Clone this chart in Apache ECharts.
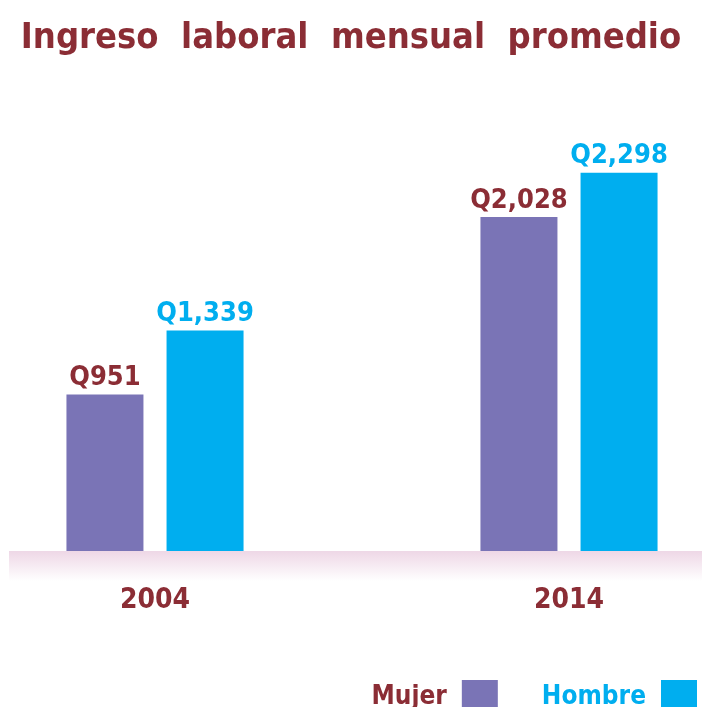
<!DOCTYPE html>
<html>
<head>
<meta charset="utf-8">
<script src="https://cdn.jsdelivr.net/npm/echarts@6/dist/echarts.min.js"></script>
<style>
  html, body { margin: 0; padding: 0; background: #fff; }
  #chart { width: 702px; height: 707px; }
</style>
</head>
<body>
<div id="chart"></div>
<script>
  // datos
  const years = ['2004', '2014'];
  const mujer = [951, 2028];
  const hombre = [1339, 2298];

  const rojo = '#8B2D35';
  const morado = '#7A74B6';
  const celeste = '#00AEEF';
  const fuente = "'DejaVu Sans Condensed', 'Liberation Sans', sans-serif";

  const fmt = (v) => 'Q' + v.toLocaleString('en-US');

  let chart = echarts.init(document.getElementById('chart'));
  chart.setOption({
    animation: false,
    title: {
      text: 'Ingreso  laboral  mensual  promedio',
      left: 'center',
      top: 16,
      textStyle: { color: rojo, fontSize: 36, fontWeight: 'bold', fontFamily: fuente }
    },
    legend: {
      right: 0,
      top: 675,
      align: 'right',
      icon: 'rect',
      itemWidth: 36,
      itemHeight: 34,
      itemGap: 44,
      data: [
        { name: 'Mujer', textStyle: { color: rojo } },
        { name: 'Hombre', textStyle: { color: celeste } }
      ],
      textStyle: { fontSize: 26, fontWeight: 'bold', fontFamily: fuente, padding: [0, 10, 0, 0] }
    },
    graphic: [{
      type: 'rect',
      z: -1,
      shape: { x: 9, y: 551, width: 693, height: 30 },
      style: {
        fill: new echarts.graphic.LinearGradient(0, 0, 0, 1, [
          { offset: 0, color: '#EED7E6' },
          { offset: 1, color: '#ffffff' }
        ])
      }
    }],
    grid: { left: 155, right: 133, top: 90, bottom: 156 },
    xAxis: {
      type: 'category',
      data: years,
      boundaryGap: false,
      axisLine: { show: false },
      axisTick: { show: false },
      axisLabel: { color: rojo, fontSize: 28, fontWeight: 'bold', fontFamily: fuente, margin: 36 }
    },
    yAxis: {
      type: 'value',
      min: 0,
      max: 2800,
      show: false,
      splitLine: { show: false }
    },
    series: [
      {
        name: 'Mujer',
        type: 'bar',
        data: mujer,
        barWidth: 77,
        barGap: '30%',
        itemStyle: { color: morado },
        label: {
          show: true, position: 'top', distance: 3,
          formatter: (p) => fmt(p.value),
          color: rojo, fontSize: 27, fontWeight: 'bold', fontFamily: fuente
        }
      },
      {
        name: 'Hombre',
        type: 'bar',
        data: hombre,
        barWidth: 77,
        barGap: '30%',
        itemStyle: { color: celeste },
        label: {
          show: true, position: 'top', distance: 3,
          formatter: (p) => fmt(p.value),
          color: celeste, fontSize: 27, fontWeight: 'bold', fontFamily: fuente
        }
      }
    ]
  });
</script>
</body>
</html>
